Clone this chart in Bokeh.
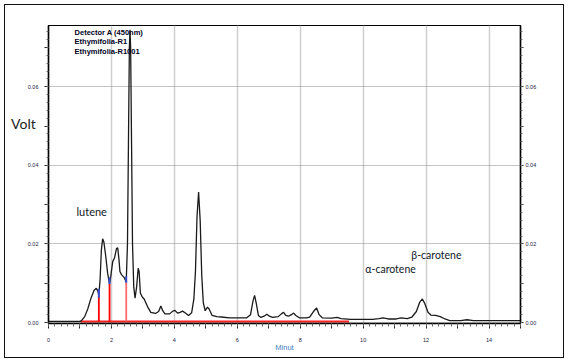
from bokeh.plotting import figure
from bokeh.models import Range1d, LinearAxis, FixedTicker, Label
from bokeh.embed import file_html
from bokeh.resources import INLINE

# ---- chromatogram (retention time in minutes, signal in volt) ----
time_min = [0.0, 1.0, 1.05, 1.15, 1.25, 1.35, 1.45, 1.52, 1.57, 1.60, 1.64, 1.68, 1.72, 1.76,
            1.82, 1.88, 1.94, 1.98, 2.04, 2.10, 2.16, 2.20, 2.24, 2.27, 2.32, 2.40, 2.47,
            2.51, 2.54, 2.57, 2.59, 2.61, 2.64, 2.67, 2.71, 2.75, 2.80, 2.85, 2.88, 2.92,
            2.98, 3.04, 3.15, 3.25, 3.40, 3.50, 3.57, 3.63, 3.70, 3.85, 3.95, 4.02, 4.10,
            4.18, 4.26, 4.35, 4.45, 4.55, 4.62, 4.67, 4.72, 4.77, 4.82, 4.87, 4.92, 4.98,
            5.05, 5.10, 5.20, 5.35, 5.50, 5.75, 6.00, 6.30, 6.42, 6.50, 6.55, 6.60, 6.67,
            6.75, 6.85, 6.94, 7.02, 7.12, 7.30, 7.40, 7.47, 7.54, 7.62, 7.72, 7.79, 7.86,
            7.97, 8.20, 8.30, 8.42, 8.52, 8.60, 8.70, 9.00, 9.17, 9.30, 9.60, 10.30, 10.50,
            10.63, 10.80, 11.05, 11.21, 11.40, 11.55, 11.69, 11.80, 11.88, 11.96, 12.06,
            12.15, 12.30, 12.45, 12.60, 12.75, 13.10, 13.30, 13.50, 15.0]
volt = [0.0003, 0.0003, 0.0005, 0.0015, 0.0035, 0.0062, 0.0082, 0.0087, 0.0080, 0.0069, 0.0110,
        0.0185, 0.0213, 0.0205, 0.0168, 0.0125, 0.0098, 0.0118, 0.0155, 0.0165, 0.0188, 0.0190,
        0.0160, 0.0130, 0.0122, 0.0115, 0.0103, 0.0200, 0.0450, 0.0700, 0.0745, 0.0700, 0.0450,
        0.0200, 0.0090, 0.0062, 0.0090, 0.0138, 0.0130, 0.0075, 0.0065, 0.0060, 0.0040, 0.0026,
        0.0023, 0.0028, 0.0042, 0.0030, 0.0022, 0.0022, 0.0029, 0.0031, 0.0024, 0.0026, 0.0029,
        0.0024, 0.0018, 0.0025, 0.0060, 0.0130, 0.0270, 0.0332, 0.0260, 0.0120, 0.0050, 0.0030,
        0.0039, 0.0035, 0.0018, 0.0015, 0.0014, 0.0012, 0.0012, 0.0012, 0.0020, 0.0055, 0.0069,
        0.0050, 0.0018, 0.0013, 0.0016, 0.0021, 0.0016, 0.0013, 0.0015, 0.0022, 0.0026, 0.0018,
        0.0016, 0.0020, 0.0024, 0.0018, 0.0012, 0.0012, 0.0014, 0.0028, 0.0037, 0.0020, 0.0012,
        0.0011, 0.0013, 0.0010, 0.0008, 0.0008, 0.0010, 0.0012, 0.0009, 0.0009, 0.0012, 0.0010,
        0.0014, 0.0028, 0.0052, 0.0060, 0.0048, 0.0026, 0.0019, 0.0018, 0.0015, 0.0009, 0.0005,
        0.0005, 0.0007, 0.0005, 0.0005]

# ---- integration baseline and peak drop lines ----
baseline_x = [1.02, 9.55]
baseline_y = [0.00025, 0.00025]
drop_x = [1.60, 1.94, 2.47]
drop_top = [0.0069, 0.0098, 0.0103]
drop_colors = ["#ff0000", "#ff0000", "#ff6a6a"]
mark_bottom = [0.0063, 0.0098, 0.0101]
mark_top = [0.0086, 0.0115, 0.0118]

# ---- ticks ----
x_ticks = [0, 1, 2, 3, 4, 5, 6, 7, 8, 9, 10, 11, 12, 13, 14, 15]
x_tick_labels = ["0", "", "2", "", "4", "", "6", "", "8", "", "10", "", "12", "", "14", ""]
y_ticks = [0.0, 0.01, 0.02, 0.03, 0.04, 0.05, 0.06, 0.07]
y_tick_labels = ["0.00", "", "0.02", "", "0.04", "", "0.06", ""]
x_grid = [2, 4, 6, 8, 10, 12, 14]
y_grid = [0.0, 0.02, 0.04, 0.06]
x_minor = [i / 5 for i in range(0, 76)]
y_minor = [i / 500 for i in range(0, 38)]

p = figure(width=552, height=346, output_backend="svg", toolbar_location=None,
           x_range=Range1d(0, 15), y_range=Range1d(-0.00025, 0.0756),
           min_border_left=40, min_border_right=40, min_border_top=17, min_border_bottom=31,
           background_fill_color="white", border_fill_color="white")
p.styles = {"margin": "8px", "outline": "1.5px solid #111111", "outline-offset": "3px"}
p.outline_line_color = "black"
p.outline_line_width = 1.2

tick_font = "Liberation Sans"
ann_font = "Lato"

def style_axis(ax, ticks, labels, minor, tick_out, minor_out, standoff):
    ax.ticker = FixedTicker(ticks=ticks, minor_ticks=minor)
    ax.major_label_overrides = dict(zip(ticks, labels))
    ax.axis_line_color = "black"
    ax.axis_line_width = 1.5
    ax.major_tick_line_color = "#222222"
    ax.minor_tick_line_color = "#666666"
    ax.major_tick_in = 0
    ax.minor_tick_in = 0
    ax.major_tick_out = tick_out
    ax.minor_tick_out = minor_out
    ax.major_label_standoff = standoff
    ax.major_label_text_font = tick_font
    ax.major_label_text_font_size = "5.5px"
    ax.major_label_text_color = "#222244"

style_axis(p.xaxis[0], x_ticks, x_tick_labels, x_minor, 5, 3, 9)
style_axis(p.yaxis[0], y_ticks, y_tick_labels, y_minor, 4, 2, 6)
right = LinearAxis()
style_axis(right, y_ticks, y_tick_labels, y_minor, 3, 2, 2)
p.add_layout(right, "right")

xa = p.xaxis[0]
xa.axis_label = "Minut"
xa.axis_label_text_font = tick_font
xa.axis_label_text_font_size = "7.5px"
xa.axis_label_text_font_style = "normal"
xa.axis_label_text_color = "#3d7fc4"
xa.axis_label_standoff = -2

ya = p.yaxis[0]
ya.axis_label = "Volt\n\n\n\n\n"
ya.axis_label_orientation = "horizontal"
ya.axis_label_text_font = ann_font
ya.axis_label_text_font_size = "14px"
ya.axis_label_text_font_style = "normal"
ya.axis_label_text_color = "#222222"
ya.axis_label_standoff = -11

p.xgrid.ticker = FixedTicker(ticks=x_grid)
p.xgrid.grid_line_color = "#cfcfcf"
p.xgrid.grid_line_width = 1.5
p.ygrid.ticker = FixedTicker(ticks=y_grid)
p.ygrid.grid_line_color = "#8a8a8a"
p.ygrid.grid_line_width = 1
p.ygrid.grid_line_dash = "1 1"

# integration lines
p.line(baseline_x, baseline_y, line_color="#ff2020", line_width=2)
p.segment(x0=drop_x, y0=[baseline_y[0]] * len(drop_x), x1=drop_x, y1=drop_top,
          line_color=drop_colors, line_width=1.8)

# signal
p.line(time_min, volt, line_color="#1a1a1a", line_width=1.3)

p.segment(x0=drop_x, y0=mark_bottom, x1=drop_x, y1=mark_top, line_color="#3a4fd0", line_width=2)

labels = [
    dict(x=0.83, y=0.0738, text="Detector A (450nm)"),
    dict(x=0.83, y=0.0715, text="Ethymifolia-R1"),
    dict(x=0.83, y=0.0690, text="Ethymifolia-R1001"),
]
for d in labels:
    p.add_layout(Label(x=d["x"], y=d["y"], text=d["text"], text_font=tick_font,
                       text_font_size="7.5px", text_font_style="bold", text_color="#000022",
                       text_baseline="middle", text_align="left"))

p.add_layout(Label(x=0.89, y=0.0283, text="lutene", text_font=ann_font, text_font_size="11px",
                   text_color="#101828", text_baseline="middle"))
p.add_layout(Label(x=11.53, y=0.0173, text="β-carotene", text_font=ann_font, text_font_size="10.5px",
                   text_color="#101828", text_baseline="middle"))
p.add_layout(Label(x=10.07, y=0.0135, text="α-carotene", text_font=ann_font, text_font_size="10.5px",
                   text_color="#101828", text_baseline="middle"))

open("out.html", "w").write(file_html(p, INLINE))
